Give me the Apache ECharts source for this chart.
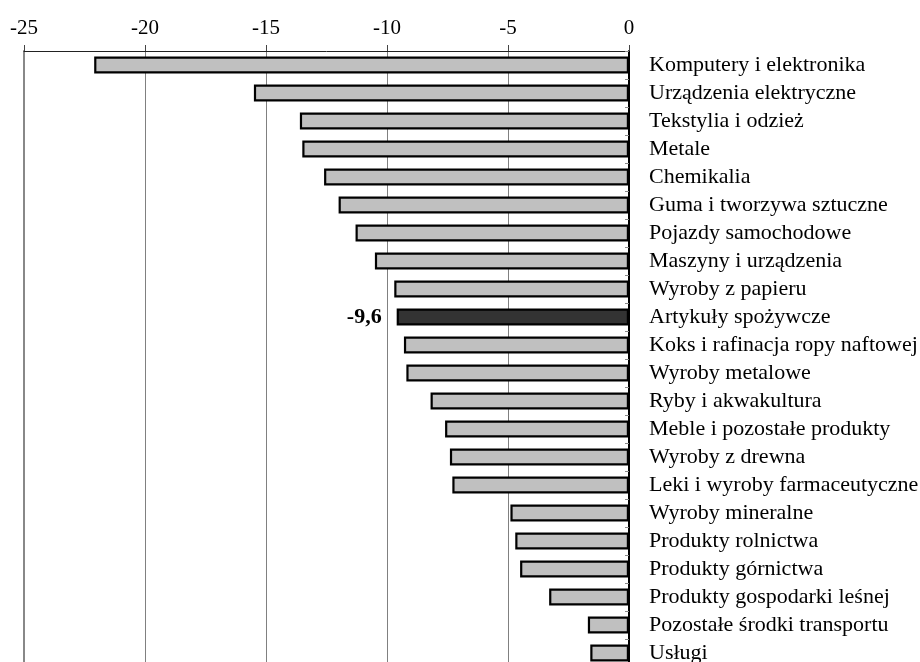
<!DOCTYPE html>
<html>
<head>
<meta charset="utf-8">
<script src="https://cdn.jsdelivr.net/npm/echarts@6/dist/echarts.min.js"></script>
<style>
html,body{margin:0;padding:0;background:#fff;}
#chart{width:920px;height:662px;}
</style>
</head>
<body>
<div id="chart"></div>
<script>
var categories = [
  'Komputery i elektronika',
  'Urządzenia elektryczne',
  'Tekstylia i odzież',
  'Metale',
  'Chemikalia',
  'Guma i tworzywa sztuczne',
  'Pojazdy samochodowe',
  'Maszyny i urządzenia',
  'Wyroby z papieru',
  'Artykuły spożywcze',
  'Koks i rafinacja ropy naftowej',
  'Wyroby metalowe',
  'Ryby i akwakultura',
  'Meble i pozostałe produkty',
  'Wyroby z drewna',
  'Leki i wyroby farmaceutyczne',
  'Wyroby mineralne',
  'Produkty rolnictwa',
  'Produkty górnictwa',
  'Produkty gospodarki leśnej',
  'Pozostałe środki transportu',
  'Usługi'
];
var values = [-22.1, -15.5, -13.6, -13.5, -12.6, -12.0, -11.3, -10.5, -9.7, -9.6, -9.3, -9.2, -8.2, -7.6, -7.4, -7.3, -4.9, -4.7, -4.5, -3.3, -1.7, -1.6];
var highlighted = 'Artykuły spożywcze';
var xTicks = { min: -25, max: 0, interval: 5 };

var FONT = '"Liberation Serif", "Times New Roman", serif';

var data = categories.map(function (c, i) {
  var d = { value: values[i] };
  if (c === highlighted) {
    d.itemStyle = { color: '#333333' };
    d.label = {
      show: true,
      position: 'left',
      distance: 15,
      formatter: function (p) { return String(p.value).replace('.', ','); },
      fontFamily: FONT,
      fontSize: 22,
      fontWeight: 'bold',
      color: '#000'
    };
  }
  return d;
});

var chart = echarts.init(document.getElementById('chart'), null, { renderer: 'canvas' });
chart.setOption({
  animation: false,
  backgroundColor: '#ffffff',
  grid: { left: 24, right: 291, top: 51, height: 616, containLabel: false, outerBoundsMode: 'none' },
  xAxis: {
    type: 'value',
    position: 'top',
    min: xTicks.min,
    max: xTicks.max,
    interval: xTicks.interval,
    axisLine: { show: true, onZero: false, lineStyle: { color: '#222', width: 1 } },
    axisTick: { show: true, inside: false, length: 6, lineStyle: { color: '#444', width: 1 } },
    axisLabel: { margin: 12, fontFamily: FONT, fontSize: 21, color: '#000' },
    splitLine: { show: true, lineStyle: { color: '#808080', width: 1 } }
  },
  yAxis: [{
    type: 'category',
    data: categories,
    inverse: true,
    position: 'right',
    axisLine: { show: true, onZero: false, lineStyle: { color: '#000', width: 2 } },
    axisTick: { show: true, inside: true, interval: 0, length: 4, lineStyle: { color: '#888' } },
    axisLabel: { interval: 0, hideOverlap: false, margin: 20, fontFamily: FONT, fontSize: 22, color: '#000' },
    splitLine: { show: false }
  }, {
    type: 'category',
    data: categories,
    inverse: true,
    position: 'left',
    axisLine: { show: true, onZero: false, lineStyle: { color: '#888', width: 2 } },
    axisTick: { show: false },
    axisLabel: { show: false },
    splitLine: { show: false }
  }],
  series: [{
    type: 'bar',
    yAxisIndex: 0,
    data: data,
    barWidth: 17,
    itemStyle: { color: '#c0c0c0', borderColor: '#000', borderWidth: 2.2 },
    label: { show: false }
  }]
});
</script>
</body>
</html>
